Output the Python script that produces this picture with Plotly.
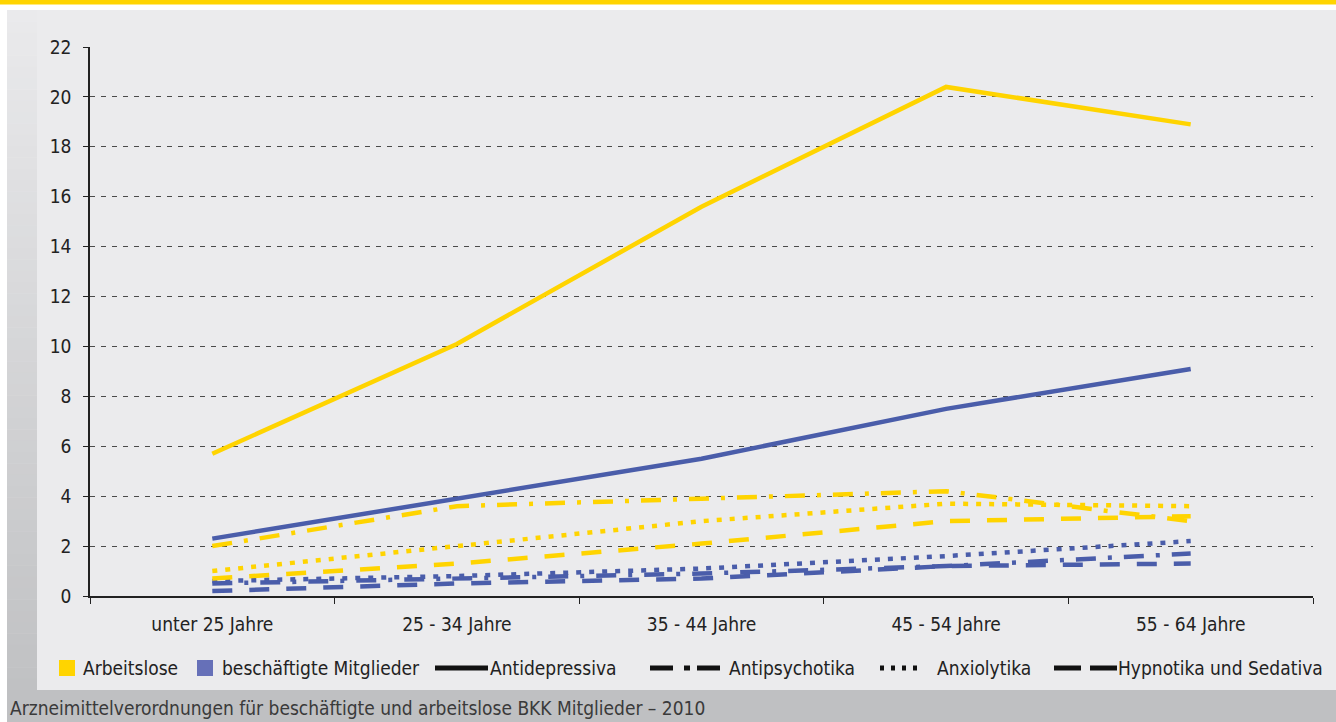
import plotly.graph_objects as go

# Age groups on the x axis
categories = ["unter 25 Jahre", "25 - 34 Jahre", "35 - 44 Jahre", "45 - 54 Jahre", "55 - 64 Jahre"]

# Prescriptions per group (Arbeitslose)
arbeitslose_antidepressiva = [5.7, 10.1, 15.6, 20.4, 18.9]
arbeitslose_antipsychotika = [2.0, 3.6, 3.9, 4.2, 3.0]
arbeitslose_anxiolytika = [1.0, 2.0, 3.0, 3.7, 3.6]
arbeitslose_hypnotika = [0.7, 1.3, 2.1, 3.0, 3.2]

# Prescriptions per group (beschäftigte Mitglieder)
beschaeftigte_antidepressiva = [2.3, 3.9, 5.5, 7.5, 9.1]
beschaeftigte_antipsychotika = [0.5, 0.7, 0.9, 1.2, 1.7]
beschaeftigte_anxiolytika = [0.6, 0.8, 1.1, 1.6, 2.2]
beschaeftigte_hypnotika = [0.2, 0.5, 0.7, 1.2, 1.3]

y_ticks = [0, 2, 4, 6, 8, 10, 12, 14, 16, 18, 20, 22]

legend_groups = ["Arbeitslose", "beschäftigte Mitglieder"]
legend_styles = ["Antidepressiva", "Antipsychotika", "Anxiolytika", "Hypnotika und Sedativa"]

caption = "Arzneimittelverordnungen für beschäftigte und arbeitslose BKK Mitglieder – 2010"

YELLOW = "#FFD400"
BLUE = "#4A5DAA"
BLUE_LEGEND = "#6670B8"
INK = "#222222"

DASH = {
    "Antidepressiva": "solid",
    "Antipsychotika": "20px,12px,4px,12px",
    "Anxiolytika": "5px,8px",
    "Hypnotika und Sedativa": "20px,17px",
}
LEGEND_DASH = {
    "Antidepressiva": "solid",
    "Antipsychotika": "23px,11px,6px,7px",
    "Anxiolytika": "4px,7px",
    "Hypnotika und Sedativa": "27px,9px",
}

W, H = 1336, 722
FONT = "Liberation Sans Narrow, DejaVu Sans Condensed, Arial Narrow, sans-serif"
FS = 19


def px_x(x):
    return x / W


def px_y(y):
    return 1 - y / H


fig = go.Figure()

series = [
    (beschaeftigte_hypnotika, BLUE, "Hypnotika und Sedativa"),
    (beschaeftigte_antipsychotika, BLUE, "Antipsychotika"),
    (beschaeftigte_anxiolytika, BLUE, "Anxiolytika"),
    (beschaeftigte_antidepressiva, BLUE, "Antidepressiva"),
    (arbeitslose_hypnotika, YELLOW, "Hypnotika und Sedativa"),
    (arbeitslose_anxiolytika, YELLOW, "Anxiolytika"),
    (arbeitslose_antipsychotika, YELLOW, "Antipsychotika"),
    (arbeitslose_antidepressiva, YELLOW, "Antidepressiva"),
]
for values, color, kind in series:
    fig.add_trace(go.Scatter(
        x=categories, y=values, mode="lines",
        line=dict(color=color, width=4.5, dash=DASH[kind]),
        showlegend=False, hoverinfo="skip",
    ))

shapes = []
annotations = []

# top yellow band
shapes.append(dict(type="rect", xref="paper", yref="paper", layer="below",
                   x0=0, x1=1, y0=px_y(4.5), y1=1, fillcolor=YELLOW, line_width=0))
# light panel
shapes.append(dict(type="rect", xref="paper", yref="paper", layer="below",
                   x0=px_x(37), x1=1, y0=px_y(690), y1=px_y(10),
                   fillcolor="#EBEBED", line_width=0))
# left strip with a vertical shade
n_bands = 60
top_rgb = (234, 234, 236)
bot_rgb = (192, 193, 195)
for i in range(n_bands):
    t = (i + 0.5) / n_bands
    c = tuple(round(a + (b - a) * t) for a, b in zip(top_rgb, bot_rgb))
    y0 = 10 + (690 - 10) * i / n_bands
    y1 = 10 + (690 - 10) * (i + 1) / n_bands
    shapes.append(dict(type="rect", xref="paper", yref="paper", layer="below",
                       x0=px_x(7), x1=px_x(37), y0=px_y(y1 + 0.5), y1=px_y(y0),
                       fillcolor="rgb(%d,%d,%d)" % c, line_width=0))
# bottom caption band
shapes.append(dict(type="rect", xref="paper", yref="paper", layer="below",
                   x0=px_x(7), x1=1, y0=0, y1=px_y(690),
                   fillcolor="#BFC0C2", line_width=0))

# legend row
LEG_Y = 668
square_pos = [(59, 83), (197, 222)]          # square left edge, text left edge
for (sx, tx), name, color in zip(square_pos, legend_groups, [YELLOW, BLUE_LEGEND]):
    shapes.append(dict(type="rect", xref="paper", yref="paper",
                       x0=px_x(sx), x1=px_x(sx + 16),
                       y0=px_y(LEG_Y + 8), y1=px_y(LEG_Y - 8),
                       fillcolor=color, line_width=0))
    annotations.append(dict(text=name, xref="paper", yref="paper",
                            x=px_x(tx - 2), y=px_y(LEG_Y), xanchor="left", yanchor="middle",
                            showarrow=False, font=dict(size=FS, family=FONT, color=INK)))

line_pos = [(435, 488, 490), (650, 721, 729), (880, 924, 937), (1054, 1117, 1118)]
for (x0, x1, tx), name in zip(line_pos, legend_styles):
    shapes.append(dict(type="line", xref="paper", yref="paper",
                       x0=px_x(x0), x1=px_x(x1), y0=px_y(LEG_Y), y1=px_y(LEG_Y),
                       line=dict(color="#111111", width=5, dash=LEGEND_DASH[name])))
    annotations.append(dict(text=name, xref="paper", yref="paper",
                            x=px_x(tx - 2), y=px_y(LEG_Y), xanchor="left", yanchor="middle",
                            showarrow=False, font=dict(size=FS, family=FONT, color=INK)))

annotations.append(dict(
    text=caption, xref="paper", yref="paper", x=px_x(8), y=px_y(708),
    xanchor="left", yanchor="middle", showarrow=False,
    font=dict(size=FS, family=FONT, color="#3A3A3A"),
))

fig.update_layout(
    width=W, height=H,
    margin=dict(l=0, r=0, t=0, b=0, autoexpand=False),
    paper_bgcolor="white",
    plot_bgcolor="rgba(0,0,0,0)",
    font=dict(family=FONT, size=FS, color=INK),
    showlegend=False,
    shapes=shapes,
    annotations=annotations,
    xaxis=dict(
        domain=[px_x(90), px_x(1313)],
        type="category", range=[-0.5, 4.5], automargin=False,
        tickson="boundaries", ticks="outside", ticklen=6, tickcolor=INK,
        showline=True, linecolor=INK, linewidth=1.5,
        showgrid=False, zeroline=False,
        tickfont=dict(size=FS, family=FONT, color=INK),
        ticklabelstandoff=10,
    ),
    yaxis=dict(
        domain=[px_y(596), px_y(47)],
        range=[0, 22], tickvals=y_ticks, automargin=False,
        ticks="outside", ticklen=5, tickcolor=INK,
        showline=True, linecolor=INK, linewidth=1.5,
        showgrid=True, gridcolor="#4A4A4A", griddash="5px,6px", gridwidth=1,
        zeroline=False,
        tickfont=dict(size=FS, family=FONT, color=INK),
        ticklabelstandoff=8,
    ),
)

fig.write_html("out.html")
